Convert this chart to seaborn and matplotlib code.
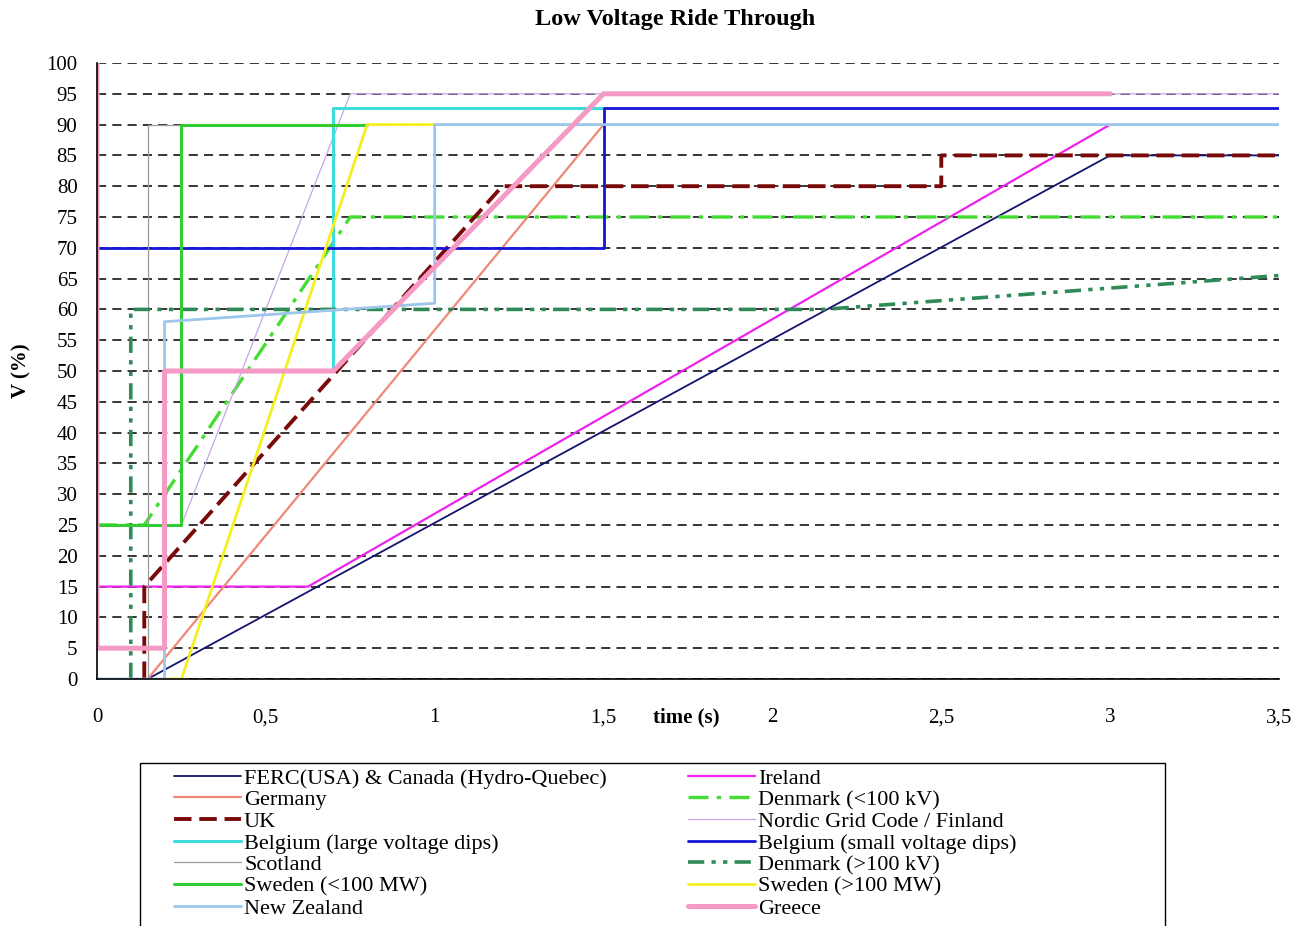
import matplotlib
matplotlib.use("Agg")
import matplotlib.pyplot as plt
import seaborn as sns
from matplotlib.patches import Rectangle

# ---------------- data (time in s, voltage in %) ----------------
ferc_t = [0.15, 3.0, 3.5]
ferc_v = [0, 85, 85]
ireland_t = [0, 0.625, 3.0]
ireland_v = [15, 15, 90]
germany_t = [0.15, 1.5]
germany_v = [0, 90]
dk_lo_t = [0, 0.14, 0.75, 3.5]
dk_lo_v = [25, 25, 75, 75]
uk_t = [0.14, 0.14, 1.2, 2.5, 2.5, 3.5]
uk_v = [0, 15, 80, 80, 85, 85]
nordic_t = [0.25, 0.75, 3.5]
nordic_v = [25, 95, 95]
be_large_t = [0.2, 0.7, 0.7, 1.5]
be_large_v = [50, 50, 92.7, 92.7]
be_small_t = [0, 1.5, 1.5, 3.5]
be_small_v = [70, 70, 92.7, 92.7]
scotland_t = [0.15, 0.15, 0.25]
scotland_v = [0, 90, 90]
dk_hi_t = [0.1, 0.1, 2.15, 3.5]
dk_hi_v = [0, 60, 60, 65.5]
swe_lo_t = [0, 0.25, 0.25, 0.8]
swe_lo_v = [25, 25, 90, 90]
swe_hi_t = [0.2, 0.25, 0.8, 1.0]
swe_hi_v = [0, 0, 90, 90]
nz_t = [0, 0.2, 0.2, 1.0, 1.0, 3.5]
nz_v = [0, 0, 58, 61, 90, 90]
greece_t = [0, 0, 0.2, 0.2, 0.7, 1.5, 3.0]
greece_v = [100, 5, 5, 50, 50, 95, 95]

x_ticks = [0, 0.5, 1, 1.5, 2, 2.5, 3, 3.5]
x_ticklabels = ["0", "0,5", "1", "1,5", "2", "2,5", "3", "3,5"]
y_ticks = list(range(0, 101, 5))

# ---------------- style ----------------
sns.set_theme(style="white")
plt.rcParams["font.family"] = ["Liberation Serif", "DejaVu Serif"]
plt.rcParams["text.color"] = "black"
plt.rcParams["axes.labelcolor"] = "black"

fig = plt.figure(figsize=(13.04, 9.26), dpi=100)
ax = fig.add_axes([97 / 1304, 1 - 679 / 926, (1279 - 97) / 1304, (679 - 63) / 926])

series = [
    ("FERC(USA) & Canada (Hydro-Quebec)", ferc_t, ferc_v, "#14146e", 1.3, "-"),
    ("Ireland", ireland_t, ireland_v, "#ee22ee", 1.6, "-"),
    ("Germany", germany_t, germany_v, "#f08878", 1.6, "-"),
    ("Denmark (<100 kV)", dk_lo_t, dk_lo_v, "#44dd33", 2.4, (0, (6, 2.5, 1.3, 2.5))),
    ("UK", uk_t, uk_v, "#7a0a0a", 2.8, (0, (4.5, 2))),
    ("Nordic Grid Code / Finland", nordic_t, nordic_v, "#c8a6e8", 0.9, "-"),
    ("Belgium (large voltage dips)", be_large_t, be_large_v, "#3fdcdc", 2.2, "-"),
    ("Belgium (small voltage dips)", be_small_t, be_small_v, "#1414d8", 2.0, "-"),
    ("Scotland", scotland_t, scotland_v, "#9a9a9a", 0.9, "-"),
    ("Denmark (>100 kV)", dk_hi_t, dk_hi_v, "#2e8b57", 2.6, (0, (4.5, 2, 1.2, 2, 1.2, 2))),
    ("Sweden (<100 MW)", swe_lo_t, swe_lo_v, "#33cc33", 2.2, "-"),
    ("Sweden (>100 MW)", swe_hi_t, swe_hi_v, "#f4f020", 2.0, "-"),
    ("New Zealand", nz_t, nz_v, "#9cc6ea", 2.0, "-"),
    ("Greece", greece_t, greece_v, "#f49ac4", 3.6, "-"),
]

handles = {}
for label, t, v, color, lw, ls in series:
    sns.lineplot(x=t, y=v, sort=False, estimator=None, color=color,
                 linewidth=lw, linestyle=ls, label=label, ax=ax)
    handles[label] = ax.get_lines()[-1]

if ax.get_legend() is not None:
    ax.get_legend().remove()

ax.set_xlim(0, 3.5)
ax.set_ylim(0, 100)
ax.set_xticks(x_ticks)
ax.set_xticklabels(x_ticklabels)
ax.set_yticks(y_ticks)
ax.tick_params(axis="x", direction="out", length=7, width=1.2, pad=14, labelsize=15, colors="black")
ax.tick_params(axis="y", direction="out", length=0, pad=14, labelsize=15, colors="black")
ax.grid(axis="y", color="black", linestyle=(0, (6, 4)), linewidth=1.1)
ax.grid(axis="x", visible=False)
ax.set_axisbelow(True)
for s in ["top", "right"]:
    ax.spines[s].set_visible(False)
ax.spines["left"].set_color("black")
ax.spines["bottom"].set_color("black")
ax.spines["left"].set_linewidth(1.2)
ax.spines["bottom"].set_linewidth(1.2)

ax.set_xlabel("time (s)", fontsize=15, fontweight="bold")
ax.xaxis.set_label_coords((686 - 97) / 1182, (679 - 707) / 616)
ax.set_ylabel("V (%)", fontsize=15, fontweight="bold")
ax.yaxis.set_label_coords((31 - 97) / 1182, 0.5)

fig.text(675 / 1304, 1 - 19 / 926, "Low Voltage Ride Through", ha="center", va="center",
         fontsize=17.5, fontweight="bold")

order = [
    "FERC(USA) & Canada (Hydro-Quebec)", "Germany", "UK", "Belgium (large voltage dips)",
    "Scotland", "Sweden (<100 MW)", "New Zealand",
    "Ireland", "Denmark (<100 kV)", "Nordic Grid Code / Finland", "Belgium (small voltage dips)",
    "Denmark (>100 kV)", "Sweden (>100 MW)", "Greece",
]
fig.patches.append(Rectangle((140 / 1304, -0.05), (1165 - 140) / 1304, (926 - 763) / 926 + 0.05,
                             transform=fig.transFigure, fill=False, edgecolor="black",
                             linewidth=1.0, zorder=5))
leg = fig.legend([handles[k] for k in order], order, loc="upper left",
                 bbox_to_anchor=(174 / 1304, 1 - 768 / 926), ncol=2, frameon=False,
                 fontsize=16, handlelength=3.0, handletextpad=0.15, borderpad=0,
                 borderaxespad=0, labelspacing=0.05, columnspacing=3.65)
for txt in leg.get_texts():
    txt.set_color("black")

fig.savefig("out.png", dpi=100)
